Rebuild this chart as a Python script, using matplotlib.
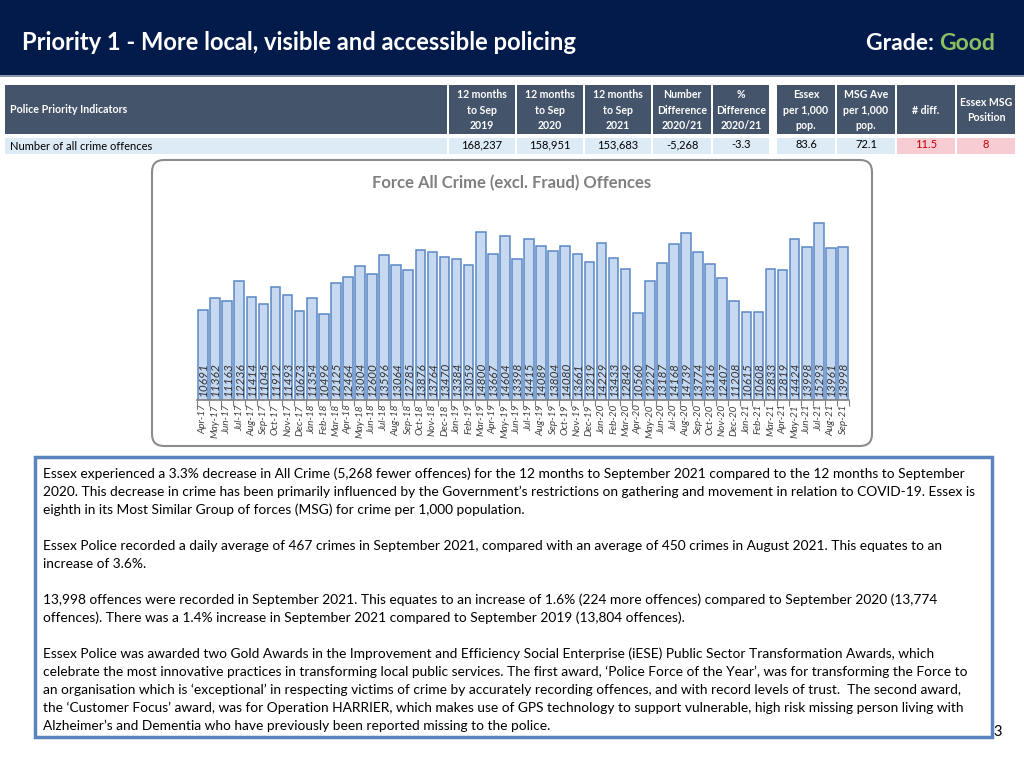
import matplotlib
matplotlib.use('Agg')
import matplotlib.pyplot as plt
from matplotlib.patches import Rectangle, FancyBboxPatch
from matplotlib.ticker import FixedLocator
import numpy as np

# ---------------- data ----------------
months = ["Apr-17", "May-17", "Jun-17", "Jul-17", "Aug-17", "Sep-17", "Oct-17", "Nov-17", "Dec-17",
          "Jan-18", "Feb-18", "Mar-18", "Apr-18", "May-18", "Jun-18", "Jul-18", "Aug-18", "Sep-18",
          "Oct-18", "Nov-18", "Dec-18", "Jan-19", "Feb-19", "Mar-19", "Apr-19", "May-19", "Jun-19",
          "Jul-19", "Aug-19", "Sep-19", "Oct-19", "Nov-19", "Dec-19", "Jan-20", "Feb-20", "Mar-20",
          "Apr-20", "May-20", "Jun-20", "Jul-20", "Aug-20", "Sep-20", "Oct-20", "Nov-20", "Dec-20",
          "Jan-21", "Feb-21", "Mar-21", "Apr-21", "May-21", "Jun-21", "Jul-21", "Aug-21", "Sep-21"]
crimes = [10691, 11362, 11163, 12236, 11414, 11045, 11912, 11493, 10673,
          11354, 10496, 12125, 12464, 13004, 12600, 13596, 13064, 12785,
          13876, 13764, 13470, 13384, 13059, 14800, 13667, 14604, 13398,
          14415, 14089, 13804, 14080, 13661, 13219, 14229, 13433, 12849,
          10560, 12227, 13187, 14168, 14739, 13774, 13116, 12407, 11208,
          10615, 10608, 12833, 12819, 14424, 13998, 15293, 13961, 13998]

table_headers = ["12 months\nto Sep\n2019", "12 months\nto Sep\n2020", "12 months\nto Sep\n2021",
                 "Number\nDifference\n2020/21", "%\nDifference\n2020/21",
                 "Essex\nper 1,000\npop.", "MSG Ave\nper 1,000\npop.", "# diff.", "Essex MSG\nPosition"]
table_values = ["168,237", "158,951", "153,683", "-5,268", "-3.3", "83.6", "72.1", "11.5", "8"]
indicator_header = "Police Priority Indicators"
indicator_name = "Number of all crime offences"

title = "Priority 1 - More local, visible and accessible policing"
grade_label = "Grade: "
grade_value = "Good"
chart_title = "Force All Crime (excl. Fraud) Offences"

paragraphs = [
    ["Essex experienced a 3.3% decrease in All Crime (5,268 fewer offences) for the 12 months to September 2021 compared to the 12 months to September",
     "2020. This decrease in crime has been primarily influenced by the Government\u2019s restrictions on gathering and movement in relation to COVID-19. Essex is",
     "eighth in its Most Similar Group of forces (MSG) for crime per 1,000 population."],
    ["Essex Police recorded a daily average of 467 crimes in September 2021, compared with an average of 450 crimes in August 2021. This equates to an",
     "increase of 3.6%."],
    ["13,998 offences were recorded in September 2021. This equates to an increase of 1.6% (224 more offences) compared to September 2020 (13,774",
     "offences). There was a 1.4% increase in September 2021 compared to September 2019 (13,804 offences)."],
    ["Essex Police was awarded two Gold Awards in the Improvement and Efficiency Social Enterprise (iESE) Public Sector Transformation Awards, which",
     "celebrate the most innovative practices in transforming local public services. The first award, \u2018Police Force of the Year\u2019, was for transforming the Force to",
     "an organisation which is \u2018exceptional\u2019 in respecting victims of crime by accurately recording offences, and with record levels of trust.  The second award,",
     "the \u2018Customer Focus\u2019 award, was for Operation HARRIER, which makes use of GPS technology to support vulnerable, high risk missing person living with",
     "Alzheimer\u2019s and Dementia who have previously been reported missing to the police."],
]
page_number = "3"

# ---------------- styling ----------------
FONT = ['Lato', 'DejaVu Sans']
plt.rcParams['font.family'] = FONT
NAVY = '#021B4B'
SLATE = '#44546A'
LIGHTBLUE = '#DDEBF7'
PINK = '#F8CCD3'
RED = '#C00000'

W, H = 1024, 768
fig = plt.figure(figsize=(W / 100, H / 100), dpi=100)
fig.patch.set_facecolor('white')

bg = fig.add_axes([0, 0, 1, 1], zorder=0)
bg.set_xlim(0, W)
bg.set_ylim(H, 0)
bg.axis('off')

# header banner
bg.add_patch(Rectangle((0, 0), W, 75, facecolor=NAVY, edgecolor='none'))
bg.add_patch(Rectangle((0, 75), W, 2, facecolor='#8A96AE', edgecolor='none'))
bg.text(22, 42, title, color='white', fontsize=17.1, fontweight='bold', va='center', ha='left')
t1 = bg.text(866, 44, grade_label, color='white', fontsize=16.5, fontweight='bold', va='center', ha='left')
fig.canvas.draw()
bb = t1.get_window_extent()
bg.text(866 + bb.width, 44, grade_value, color='#8DBF62', fontsize=16.5, fontweight='bold',
        va='center', ha='left')

# table
col_left = [449, 517, 585, 653, 713, 777, 837, 897, 957]
col_w = [66, 66, 66, 58, 56, 58, 58, 58, 58]
hy0, hy1 = 85, 134
dy0, dy1 = 138, 154
bg.add_patch(Rectangle((5, hy0), 442, hy1 - hy0, facecolor=SLATE, edgecolor='none'))
bg.text(10, (hy0 + hy1) / 2, indicator_header, color='white', fontsize=7.7, fontweight='bold',
        va='center', ha='left')
bg.add_patch(Rectangle((5, dy0), 442, dy1 - dy0, facecolor=LIGHTBLUE, edgecolor='none'))
bg.text(10, (dy0 + dy1) / 2, indicator_name, color='black', fontsize=8, va='center', ha='left')
for i, (hdr, val) in enumerate(zip(table_headers, table_values)):
    x0, w = col_left[i], col_w[i]
    bg.add_patch(Rectangle((x0, hy0), w, hy1 - hy0, facecolor=SLATE, edgecolor='none'))
    bg.text(x0 + w / 2, (hy0 + hy1) / 2 + 0.5, hdr, color='white', fontsize=7.6, fontweight='bold',
            va='center', ha='center', linespacing=1.55)
    fc = PINK if i >= 7 else LIGHTBLUE
    tc = RED if i >= 7 else 'black'
    bg.add_patch(Rectangle((x0, dy0), w, dy1 - dy0, facecolor=fc, edgecolor='none'))
    bg.text(x0 + w / 2, (dy0 + dy1) / 2 - 1, val, color=tc, fontsize=8, va='center', ha='center')

# chart frame
bg.add_patch(FancyBboxPatch((152, 160), 720, 286, boxstyle='round,pad=0,rounding_size=12',
                            facecolor='white', edgecolor='#8C8C8C', linewidth=1.5))
bg.text(512, 183, chart_title, color='#7F7F7F', fontsize=12, fontweight='bold',
        va='center', ha='center')

# text box
bg.add_patch(Rectangle((35, 457), 957, 280, facecolor='white', edgecolor='#5B84BF', linewidth=2.5))
y = 474
for para in paragraphs:
    for line in para:
        bg.text(43, y, line, color='black', fontsize=9.95, va='center', ha='left')
        y += 18
    y += 18
bg.text(993, 732, page_number, color='black', fontsize=10.5, va='center', ha='left')

# ---------------- bar chart ----------------
ax = fig.add_axes([197 / W, 1 - 400 / H, 652 / W, 191 / H], zorder=2)
ax.patch.set_alpha(0)
x = np.arange(len(crimes))
ax.bar(x, crimes, width=0.8, color='#C6D9F1', edgecolor='#5A87C5', linewidth=1.1, zorder=2)
ax.set_xlim(-0.5, len(crimes) - 0.5)
ax.set_ylim(6000, 16000)
for xi, v in zip(x, crimes):
    ax.text(xi + 0.05, 0.02, f"{v}", transform=ax.get_xaxis_transform(), rotation=90, ha='center',
            va='bottom', fontsize=8.6, fontstyle='italic', color='#333333', zorder=3)
for s in ['top', 'right', 'left']:
    ax.spines[s].set_visible(False)
ax.spines['bottom'].set_color('#7F7F7F')
ax.spines['bottom'].set_linewidth(1.2)
ax.set_yticks([])
ax.set_xticks(x)
ax.set_xticklabels(months, rotation=90, fontsize=7.2, fontstyle='italic', color='#404040')
ax.tick_params(axis='x', which='major', length=0, pad=3)
ax.xaxis.set_minor_locator(FixedLocator(np.arange(-0.5, len(crimes), 1.0)))
ax.tick_params(axis='x', which='minor', length=4, color='#7F7F7F', width=0.8)

fig.savefig('out.png', dpi=100, facecolor='white')
